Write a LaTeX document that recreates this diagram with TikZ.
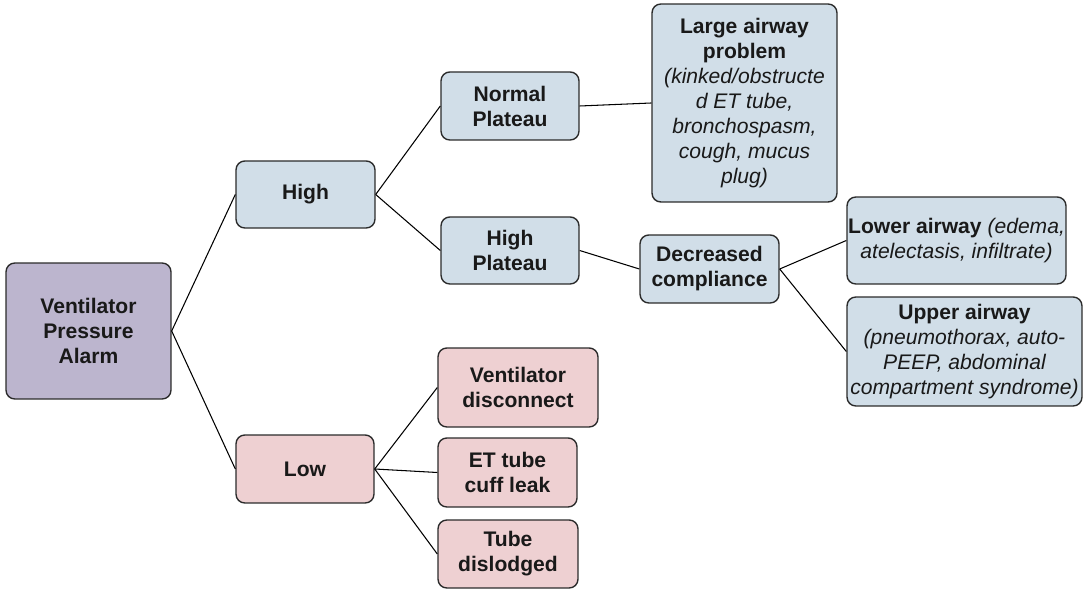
\documentclass[tikz,border=0pt]{standalone}
\usepackage{fontspec}
\setmainfont{Liberation Sans}
\usetikzlibrary{positioning}

\definecolor{alarmfill}{HTML}{BCB5CE}
\definecolor{highfill}{HTML}{D1DEE8}
\definecolor{lowfill}{HTML}{EED0D2}
\definecolor{edge}{HTML}{2B2B2B}

\begin{document}
\begin{tikzpicture}[x=0.02cm,y=-0.02cm,
  font=\fontsize{12}{14.2}\selectfont\bfseries,
  card/.style={draw=edge,line width=0.8pt,rounded corners=5pt,fill=#1,inner sep=0pt,align=center,text=black!90},
  link/.style={draw=black,line width=0.6pt}]
  \useasboundingbox (0,0) rectangle (1085,590);
  % ---------- root
  \node[card=alarmfill,minimum width=3.3cm,minimum height=2.72cm] (alarm) at (88.5,331) {Ventilator\\Pressure\\Alarm};
  % ---------- high pressure branch
  \node[card=highfill,minimum width=2.78cm,minimum height=1.34cm] (high) at (305.5,194.5) {High};
  \node[card=highfill,minimum width=2.76cm,minimum height=1.36cm] (normal) at (510,106) {Normal\\Plateau};
  \node[card=highfill,minimum width=2.76cm,minimum height=1.34cm] (hplat) at (510,250.5) {High\\Plateau};
  \node[card=highfill,minimum width=3.7cm,minimum height=3.96cm] (large) at (744.5,103)
    {Large airway\\problem\\\mdseries\itshape (kinked/obstructe\\\mdseries\itshape d ET tube,\\\mdseries\itshape bronchospasm,\\\mdseries\itshape cough, mucus\\\mdseries\itshape plug)};
  \node[card=highfill,minimum width=2.78cm,minimum height=1.36cm] (decr) at (709.5,269) {Decreased\\compliance};
  \node[card=highfill,minimum width=4.38cm,minimum height=1.74cm] (lower) at (956.5,240.5)
    {Lower airway {\mdseries\itshape (edema,}\\\mdseries\itshape atelectasis, infiltrate)};
  \node[card=highfill,minimum width=4.7cm,minimum height=2.18cm] (upper) at (964.5,351.5)
    {Upper airway\\\mdseries\itshape (pneumothorax, auto-\\\mdseries\itshape PEEP, abdominal\\\mdseries\itshape compartment syndrome)};
  % ---------- low pressure branch
  \node[card=lowfill,minimum width=2.76cm,minimum height=1.36cm] (low) at (305,469) {Low};
  \node[card=lowfill,minimum width=3.2cm,minimum height=1.58cm] (vdisc) at (518,387.5) {Ventilator\\disconnect};
  \node[card=lowfill,minimum width=2.78cm,minimum height=1.38cm] (cuff) at (507.5,472.5) {ET tube\\cuff leak};
  \node[card=lowfill,minimum width=2.8cm,minimum height=1.36cm] (disl) at (508,554) {Tube\\dislodged};
  % ---------- connectors
  \draw[link] (alarm.east) -- (high.west);
  \draw[link] (alarm.east) -- (low.west);
  \draw[link] (high.east) -- (normal.west);
  \draw[link] (high.east) -- (hplat.west);
  \draw[link] (normal.east) -- (large.west);
  \draw[link] (hplat.east) -- (decr.west);
  \draw[link] (decr.east) -- (lower.west);
  \draw[link] (decr.east) -- (upper.west);
  \draw[link] (low.east) -- (vdisc.west);
  \draw[link] (low.east) -- (cuff.west);
  \draw[link] (low.east) -- (disl.west);
\end{tikzpicture}
\end{document}
